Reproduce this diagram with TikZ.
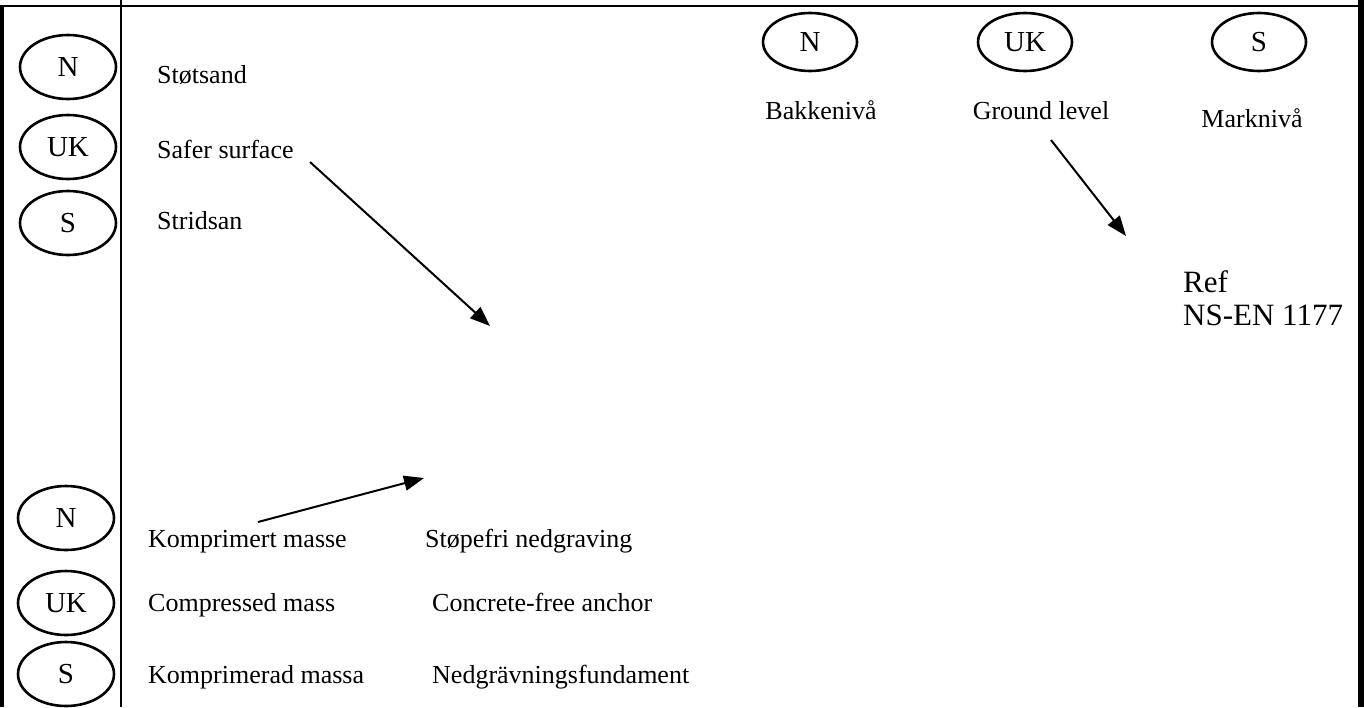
\documentclass[tikz,border=0pt]{standalone}
\usepackage{fontspec}
\setmainfont{Liberation Serif}
\usetikzlibrary{arrows.meta,shapes.geometric}

\begin{document}
\begin{tikzpicture}[x=1pt,y=-1pt]
        \tikzstyle{every node}+=[inner sep=0pt, font=\fontsize{26}{30}\selectfont]
        \tikzstyle{flag}=[draw, ellipse, line width=2.6pt, minimum width=96pt, minimum height=64pt, font=\fontsize{29}{32}\selectfont]
        \tikzstyle{flagflat}=[flag, minimum width=94pt, minimum height=58pt]
        \tikzstyle{lbl}=[anchor=base west]
        \tikzstyle{pointer}=[line width=2pt, -{Triangle[length=20pt, width=15pt]}]
        \useasboundingbox (0,0) rectangle (1364,707);
        % frame
        \draw [line width=2.5pt] (0,6) -- (1358,6);
        \draw [line width=4pt] (2,7) -- (2,707);
        \draw [line width=2.5pt] (121,0) -- (121,707);
        \draw [line width=6pt] (1361,0) -- (1361,707);
        % left, top
        \node [flag] (nA) at (68,67) {N};
        \node [flag] (ukA) at (68,147) {UK};
        \node [flag] (sA) at (68,223) {S};
        \node [lbl] (stot) at (157,83) {Støtsand};
        \node [lbl] (safer) at (157,158) {Safer surface};
        \node [lbl] (strid) at (157,229) {Stridsan};
        % right, top
        \node [flagflat] (nB) at (810,42) {N};
        \node [flagflat] (ukB) at (1025,42) {UK};
        \node [flagflat] (sB) at (1259,42) {S};
        \node [anchor=base] (bakke) at (821,119) {Bakkenivå};
        \node [anchor=base] (ground) at (1041,119) {Ground level};
        \node [anchor=base] (mark) at (1252,127) {Marknivå};
        \node [anchor=base west, font=\fontsize{31}{33}\selectfont, align=left] (ref) at (1183,325) {Ref\\NS-EN 1177};
        % left, bottom
        \node [flag] (nC) at (66,518) {N};
        \node [flag] (ukC) at (66,603) {UK};
        \node [flag] (sC) at (66,674) {S};
        \node [lbl] (kompA) at (148,547) {Komprimert masse};
        \node [lbl] (compr) at (148,611) {Compressed mass};
        \node [lbl] (kompB) at (148,683) {Komprimerad massa};
        \node [lbl] (stope) at (425,547) {Støpefri nedgraving};
        \node [lbl] (free) at (432,611) {Concrete-free anchor};
        \node [lbl] (nedgr) at (432,683) {Nedgrävningsfundament};
        % arrows
        \coordinate (a1) at (310,162);
        \coordinate (a1e) at (490,326);
        \coordinate (a2) at (1051,140);
        \coordinate (a2e) at (1126,236);
        \coordinate (a3) at (258,522);
        \coordinate (a3e) at (424,478);
        \draw [pointer] (a1) -- (a1e);
        \draw [pointer] (a2) -- (a2e);
        \draw [pointer] (a3) -- (a3e);
\end{tikzpicture}
\end{document}
